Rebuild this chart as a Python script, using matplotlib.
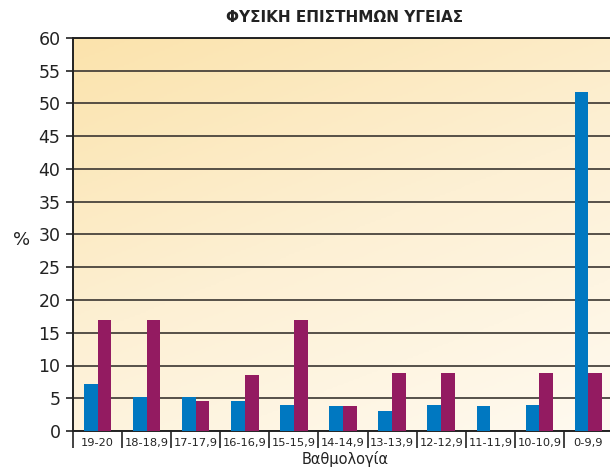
import numpy as np
import matplotlib
matplotlib.use("Agg")
import matplotlib.pyplot as plt
from matplotlib.colors import LinearSegmentedColormap

categories = ["19-20", "18-18,9", "17-17,9", "16-16,9", "15-15,9", "14-14,9",
              "13-13,9", "12-12,9", "11-11,9", "10-10,9", "0-9,9"]
series_blue = [7.2, 5.2, 5.2, 4.6, 4.0, 3.8, 3.1, 4.0, 3.8, 4.0, 51.7]
series_purple = [16.9, 16.9, 4.6, 8.6, 16.9, 3.8, 8.9, 8.9, 0.0, 8.9, 8.9]
yticks = list(range(0, 61, 5))

plt.rcParams['font.family'] = ['DejaVu Sans']

fig = plt.figure(figsize=(6.10, 4.68), dpi=100)
ax = fig.add_axes([73/610, 37/468, 540/610, 393/468])

# gradient background
g = np.linspace(0, 1, 200)
X, Y = np.meshgrid(g, g)
Z = (X * 0.35 + Y * 0.65)
cmap = LinearSegmentedColormap.from_list("bg", ["#FBE3AC", "#FDF0D4", "#FFFAF0"])
ax.imshow(Z, cmap=cmap, extent=[0, 1, 0, 1], transform=ax.transAxes,
          aspect="auto", zorder=0, origin="upper")

x = np.arange(len(categories))
w = 0.28
ax.bar(x - w/2, series_blue, width=w, color="#0078C1", zorder=3)
ax.bar(x + w/2, series_purple, width=w, color="#931B61", zorder=3)

ax.set_xlim(-0.5, len(categories) - 0.5)
ax.set_ylim(0, 60)
ax.set_yticks(yticks)
ax.set_yticklabels([str(v) for v in yticks], fontsize=12.5, color="#222222")
ax.yaxis.grid(True, color="#3a3530", linewidth=1.2, zorder=1)
for gl in ax.get_ygridlines():
    gl.set_zorder(1)

ax.set_xticks(x)
ax.set_xticklabels(categories, fontsize=8.2, color="#222222")
ax.tick_params(axis="x", length=0, pad=5)
ax.set_xticks(np.arange(-0.5, len(categories), 1.0), minor=True)
ax.tick_params(axis="x", which="minor", length=12, width=1.2, color="#222222")
ax.tick_params(axis="y", length=5, width=1.2, color="#222222", pad=4)

for s in ["left", "bottom", "top"]:
    ax.spines[s].set_color("#222222")
    ax.spines[s].set_linewidth(1.4)
ax.spines["right"].set_visible(False)

fig.text(22/610, 1 - 240/468, "%", fontsize=13, ha="center", va="center", color="#222222")
fig.text(345/610, 1 - 459/468, "Βαθμολογία", fontsize=10.5, ha="center", va="center", color="#222222")
fig.text(345/610, 1 - 18/468, "ΦΥΣΙΚΗ ΕΠΙΣΤΗΜΩΝ ΥΓΕΙΑΣ", fontsize=11, fontweight="bold",
         ha="center", va="center", color="#222222")

fig.savefig("out.png", dpi=100)
